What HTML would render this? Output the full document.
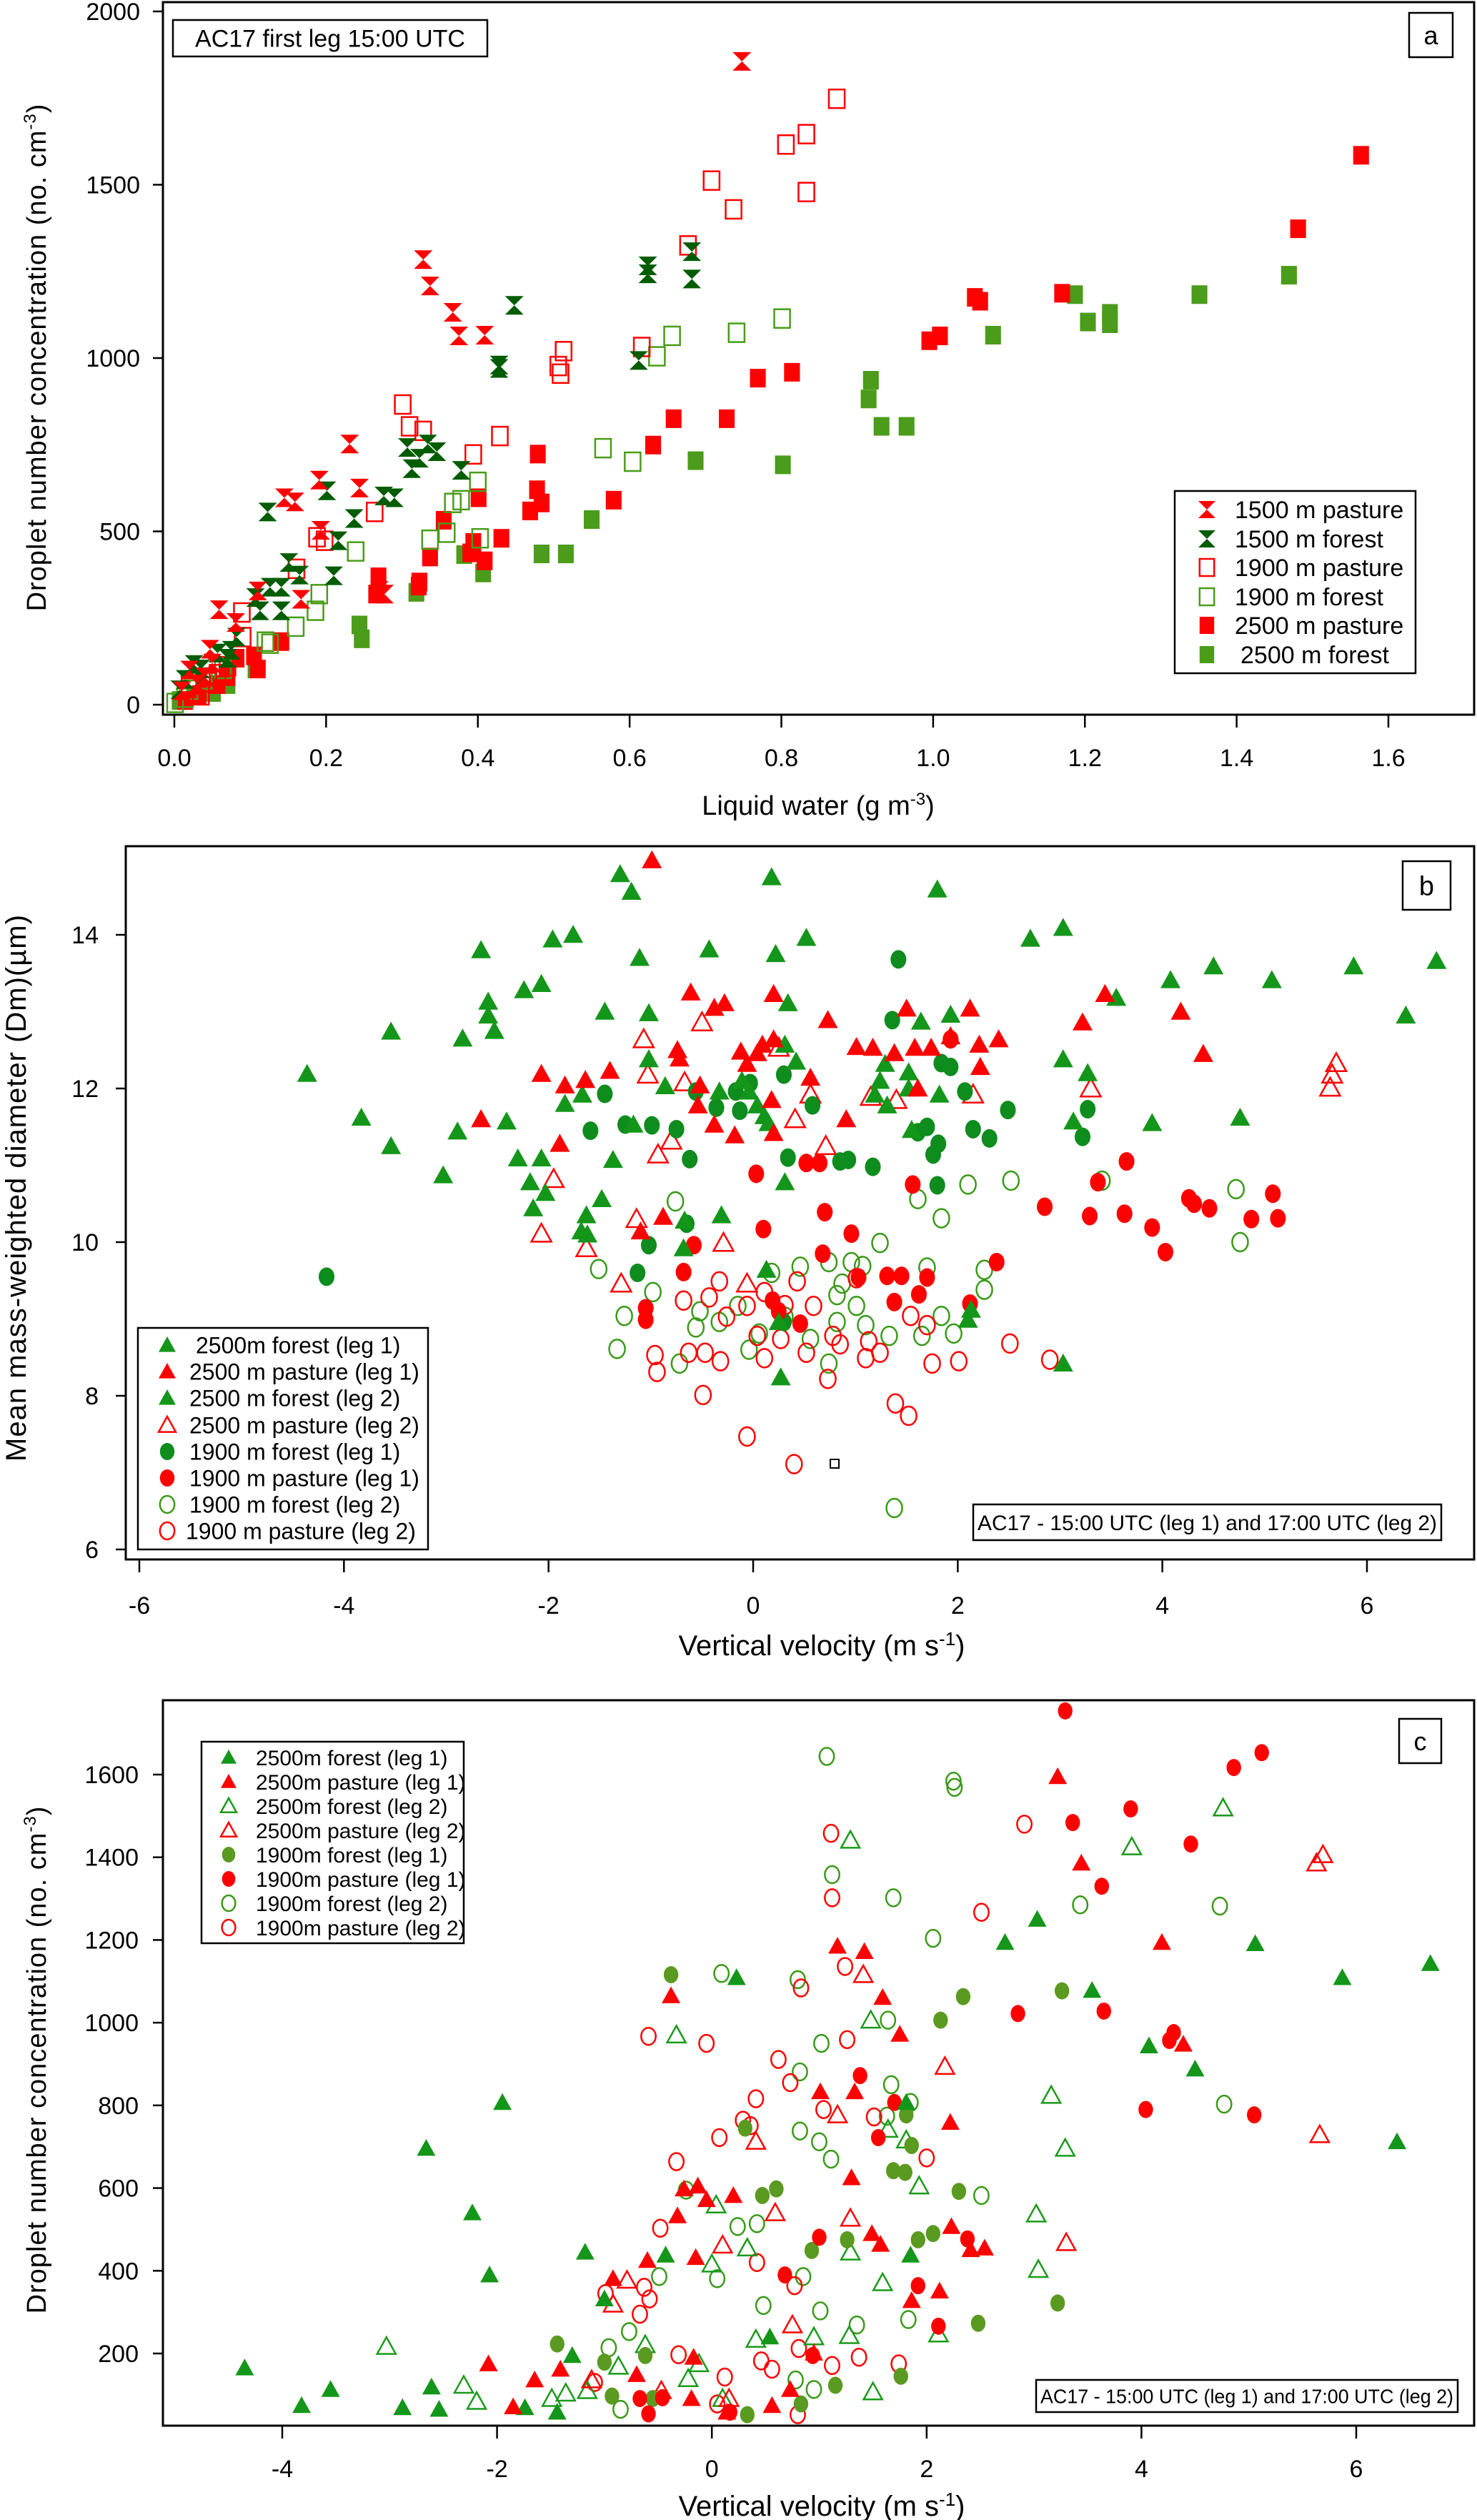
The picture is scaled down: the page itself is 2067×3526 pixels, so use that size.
<!DOCTYPE html>
<html><head><meta charset="utf-8">
<style>
html,body{margin:0;padding:0;background:#fff;}
svg{display:block;}
text{font-family:"Liberation Sans Narrow","Liberation Sans",Arial,sans-serif;fill:#000;}
</style></head>
<body>
<svg id="fig" width="2067" height="3526" viewBox="0 0 2067 3526" xmlns="http://www.w3.org/2000/svg">
<g id="pa"></g>
<g id="pb"></g>
<g id="pc"></g>
</svg>
<script>
// ---------- Panel A data: [liquid water, droplet conc] ----------
const aTicksX = [0.0,0.2,0.4,0.6,0.8,1.0,1.2,1.4,1.6];
const aTickLabelsX = ["0.0","0.2","0.4","0.6","0.8","1.0","1.2","1.4","1.6"];
const aTicksY = [0,500,1000,1500,2000];
const aP1500 = [[0.748,1856],[0.328,1284],[0.337,1208],[0.367,1132],[0.375,1064],[0.409,1066],[0.231,752],[0.191,648],[0.244,625],[0.145,597],[0.159,585],[0.193,503],[0.059,274],[0.081,237],[0.047,160],[0.110,328],[0.167,304],[0.277,319],[0.27,330],[0.02,100],[0.03,60],[0.05,120],[0.01,40],[0.04,80]];
const aF1500 = [[0.682,1307],[0.682,1228],[0.624,1266],[0.624,1243],[0.448,1152],[0.428,980],[0.428,970],[0.612,993],[0.307,742],[0.334,752],[0.346,730],[0.313,681],[0.323,711],[0.378,676],[0.201,617],[0.276,602],[0.290,597],[0.123,556],[0.237,537],[0.216,473],[0.151,410],[0.165,374],[0.210,372],[0.126,339],[0.141,339],[0.107,309],[0.141,271],[0.113,271],[0.082,195],[0.075,157],[0.057,149],[0.026,116],[0.035,103],[0.014,73],[0.007,43],[0.039,81],[0.07,134]];
const aP1900 = [[0.873,1748],[0.833,1646],[0.806,1616],[0.708,1512],[0.737,1429],[0.833,1479],[0.677,1325],[0.513,1020],[0.506,977],[0.509,955],[0.616,1032],[0.301,866],[0.310,803],[0.328,790],[0.394,722],[0.429,775],[0.264,556],[0.188,483],[0.198,473],[0.161,392],[0.089,266],[0.090,195],[0.07,111],[0.057,88],[0.02,58],[0.035,27],[0.045,65]];
const aF1900 = [[0.801,1114],[0.741,1073],[0.656,1064],[0.636,1005],[0.565,740],[0.604,701],[0.400,643],[0.367,582],[0.378,590],[0.359,496],[0.337,476],[0.403,480],[0.239,442],[0.191,319],[0.186,271],[0.160,225],[0.120,182],[0.126,176],[0.064,103],[0.039,73],[0.014,20],[0.001,5],[0.02,43]];
const aP2500 = [[1.564,1585],[1.481,1373],[1.170,1187],[1.055,1175],[1.062,1164],[0.995,1050],[1.009,1064],[0.814,959],[0.769,942],[0.728,825],[0.658,825],[0.631,749],[0.479,723],[0.478,620],[0.484,582],[0.469,559],[0.579,590],[0.401,597],[0.355,532],[0.431,480],[0.394,468],[0.390,438],[0.337,426],[0.409,415],[0.269,369],[0.266,319],[0.323,354],[0.322,342],[0.141,182],[0.105,141],[0.110,103],[0.082,134],[0.057,58],[0.032,27],[0.014,12],[0.07,81]];
const aF2500 = [[1.469,1239],[1.351,1183],[1.233,1129],[1.233,1099],[1.204,1104],[1.187,1183],[1.079,1066],[0.918,936],[0.915,882],[0.932,803],[0.965,803],[0.802,692],[0.687,704],[0.550,534],[0.484,435],[0.516,435],[0.382,433],[0.407,380],[0.319,324],[0.244,230],[0.247,190],[0.07,58],[0.051,35],[0.007,12],[0.026,27],[0.107,103]];

// ---------- Panel B data: [vertical velocity, Dm] ----------
const bTicksX = [-6,-4,-2,0,2,4,6];
const bTicksY = [6,8,10,12,14];
const bF2500L1 = [[-4.36,12.19],[-3.83,11.62],[-3.54,12.74],[-3.54,11.25],[-3.03,10.87],[-2.89,11.44],[-2.84,12.65],[-2.66,13.8],[-2.59,13.13],[-2.59,12.95],[-2.53,12.75],[-2.41,11.57],[-2.30,11.09],[-2.24,13.28],[-2.18,10.78],[-2.15,10.44],[-2.07,13.36],[-2.07,11.09],[-2.03,10.64],[-1.96,13.94],[-1.84,11.8],[-1.76,14.0],[-1.67,11.92],[-1.63,10.35],[-1.68,10.14],[-1.62,10.1],[-1.48,10.56],[-1.45,13.0],[-1.37,11.07],[-1.30,14.79],[-1.19,14.56],[-1.17,11.53],[-1.11,13.7],[-1.02,12.98],[-1.02,12.38],[-0.86,12.03],[-0.68,9.92],[-0.67,10.28],[-0.43,13.81],[-0.31,10.35],[-0.33,11.96],[-0.11,12.1],[-0.04,11.96],[0.04,11.78],[0.11,11.64],[0.15,11.55],[0.18,14.75],[0.22,13.75],[0.31,10.78],[0.34,13.11],[0.31,12.57],[0.42,12.35],[0.52,13.96],[0.13,9.64],[0.27,8.24]];
const bF2500L2 = [[0.25,8.96],[1.29,12.32],[1.24,12.1],[1.19,11.92],[1.31,11.78],[1.52,12.0],[1.55,11.46],[1.64,12.87],[1.80,14.59],[1.82,11.92],[1.93,12.96],[2.13,9.12],[2.10,8.99],[2.71,13.95],[3.03,14.09],[3.03,12.38],[3.13,11.57],[3.27,12.2],[3.03,8.42],[3.55,13.18],[3.9,11.55],[4.08,13.41],[4.5,13.59],[4.76,11.62],[5.07,13.41],[5.87,13.59],[6.38,12.95],[6.68,13.66],[1.52,12.21]];
const bP2500L1 = [[-0.99,14.97],[-2.07,12.19],[-1.84,12.04],[-1.64,12.11],[-1.40,12.23],[-2.66,11.6],[-1.89,11.28],[-0.88,10.33],[-1.10,10.14],[-0.74,12.5],[-0.72,12.39],[-0.61,13.25],[-0.38,13.05],[-0.28,13.11],[-0.54,11.78],[-0.38,11.53],[-0.18,11.39],[-0.12,12.48],[-0.06,12.32],[0.09,12.57],[0.20,13.23],[0.20,12.64],[0.18,11.85],[0.20,11.42],[0.56,12.14],[0.73,12.89],[0.91,11.6],[1.01,12.54],[1.17,12.53],[1.38,12.46],[1.50,13.04],[1.58,12.53],[1.61,12.0],[1.74,12.53],[1.93,12.68],[2.12,13.04],[2.21,12.57],[2.22,12.28],[2.40,12.64],[3.22,12.86],[3.44,13.23],[4.18,13.0],[4.4,12.45],[-0.52,12.04],[0.04,12.46]];
const bP2500L2 = [[-2.07,10.11],[-1.95,10.82],[-1.63,9.92],[-1.29,9.46],[-1.07,12.64],[-1.03,12.18],[-1.14,10.3],[-0.93,11.14],[-0.80,11.32],[-0.67,12.08],[-0.50,12.86],[-0.29,9.99],[-0.06,9.46],[0.25,12.53],[0.41,11.6],[0.56,11.92],[0.71,11.25],[1.15,11.89],[1.40,11.85],[2.15,11.92],[3.30,12.0],[5.64,12.01],[5.66,12.18],[5.70,12.33]];
const bF1900L1 = [[-4.17,9.55],[-1.59,11.45],[-1.45,11.93],[-1.13,9.6],[-1.02,9.96],[-1.25,11.53],[-0.99,11.52],[-0.75,11.47],[-0.62,11.08],[-0.65,10.24],[-0.56,11.96],[-0.36,11.75],[-0.17,11.96],[-0.13,11.71],[-0.03,12.07],[0.30,12.18],[0.34,11.1],[0.58,11.78],[0.85,11.05],[0.93,11.07],[1.17,10.98],[1.36,12.89],[1.42,13.68],[1.70,11.5],[1.61,11.43],[1.76,11.14],[1.81,11.28],[1.80,10.74],[1.84,12.33],[1.93,12.28],[2.07,11.96],[2.15,11.47],[2.31,11.35],[2.49,11.72],[3.27,11.73],[3.22,11.37],[0.30,8.96]];
const bP1900L1 = [[-1.05,9.14],[-1.05,8.99],[-0.68,9.61],[-0.58,9.96],[0.10,10.17],[0.03,10.89],[0.19,9.24],[0.46,8.94],[0.52,11.03],[0.65,11.03],[0.68,9.85],[0.70,10.39],[0.96,10.11],[1.03,9.54],[1.31,9.56],[1.38,9.22],[1.45,9.56],[1.56,10.75],[1.62,9.32],[1.70,9.54],[1.93,12.64],[2.12,9.2],[2.38,9.74],[2.85,10.46],[3.29,10.34],[3.37,10.78],[3.63,10.37],[3.65,11.05],[3.90,10.19],[4.03,9.87],[4.26,10.57],[4.31,10.5],[4.46,10.44],[4.87,10.3],[5.08,10.63],[5.13,10.31],[0.25,9.1]];
const bF1900L2 = [[-1.51,9.65],[-1.33,8.61],[-1.26,9.04],[-0.98,9.35],[-0.76,10.53],[-0.52,9.1],[-0.72,8.42],[-0.56,8.89],[-0.33,8.96],[-0.15,9.17],[-0.04,8.6],[0.06,8.81],[0.18,9.6],[0.31,9.03],[0.46,9.68],[0.56,8.74],[0.74,9.74],[0.74,8.42],[0.82,9.31],[0.82,8.96],[0.96,9.74],[1.01,9.17],[1.07,9.69],[1.10,8.92],[1.24,9.99],[1.33,8.78],[1.38,6.54],[1.61,10.56],[1.70,9.67],[1.65,8.78],[1.84,10.31],[1.84,9.04],[1.96,8.81],[2.10,10.75],[2.26,9.64],[2.26,9.38],[2.52,10.8],[3.41,10.8],[4.72,10.69],[4.76,10.0],[0.87,9.46]];
const bP1900L2 = [[-0.96,8.53],[-0.94,8.31],[-0.68,9.24],[-0.63,8.56],[-0.47,8.56],[-0.32,8.45],[-0.33,9.49],[-0.43,9.28],[-0.49,8.01],[-0.26,9.03],[-0.06,7.47],[-0.06,9.17],[0.04,8.78],[0.11,8.49],[0.11,9.35],[0.27,8.74],[0.31,9.18],[0.40,7.11],[0.43,9.49],[0.52,8.56],[0.59,9.17],[0.73,8.22],[0.78,8.78],[0.85,8.67],[1.01,9.53],[1.10,8.49],[1.13,8.71],[1.24,8.56],[1.39,7.9],[1.52,7.74],[1.54,9.04],[1.75,8.42],[2.01,8.45],[2.51,8.68],[2.90,8.47],[1.70,8.92]];

// ---------- Panel C data: [vertical velocity, droplet conc] ----------
const cTicksX = [-4,-2,0,2,4,6];
const cTicksY = [200,400,600,800,1000,1200,1400,1600];
const cF2500L1 = [[-4.35,165],[-3.82,74],[-3.55,113],[-2.88,69],[-2.66,696],[-2.54,65],[-2.61,119],[-2.23,540],[-2.07,390],[-1.95,807],[-1.74,69],[-1.44,58],[-1.30,195],[-1.18,445],[-1.00,332],[-0.43,438],[0.23,1109],[0.54,240],[1.81,807],[1.85,438],[2.73,1194],[3.03,1250],[3.54,1078],[4.07,944],[4.50,888],[5.06,1191],[5.87,1109],[6.38,712],[6.69,1143]];
const cP2500L1 = [[-2.08,175],[-1.85,71],[-1.65,136],[-1.41,162],[-0.92,381],[-0.70,149],[-0.60,425],[-0.38,1065],[-0.32,533],[-0.26,598],[-0.13,605],[-0.15,432],[-0.05,572],[-0.17,191],[-0.19,91],[0.20,582],[0.14,58],[0.56,74],[0.73,113],[0.95,201],[1.01,833],[1.17,1185],[1.30,625],[1.33,833],[1.42,1172],[1.59,1061],[1.75,972],[1.49,490],[1.57,464],[1.86,328],[2.12,351],[2.22,759],[2.23,507],[2.41,451],[3.22,1595],[3.44,1386],[4.19,1194],[4.39,948],[2.54,455]];
const cF2500L2 = [[-3.03,217],[-2.31,123],[-2.19,84],[-1.49,91],[-1.36,104],[-1.16,110],[-0.87,169],[-0.62,221],[-0.33,970],[-0.22,139],[-0.12,175],[0.00,416],[0.04,559],[0.10,91],[0.33,455],[0.41,234],[1.29,445],[1.28,243],[1.50,107],[1.29,1441],[1.48,1006],[1.59,371],[1.64,742],[1.81,716],[1.93,605],[2.11,247],[3.02,537],[3.04,403],[3.16,824],[3.29,696],[3.91,1425],[4.76,1519],[0.95,240]];
const cP2500L2 = [[-1.12,136],[-0.92,319],[-0.79,377],[-0.47,110],[0.10,462],[0.16,91],[0.41,713],[0.59,540],[0.75,269],[1.17,777],[1.29,527],[1.41,1116],[2.17,894],[3.30,468],[5.63,1386],[5.69,1406],[5.66,729]];
const cF1900L1 = [[-1.44,223],[-1.00,179],[-0.93,97],[-0.62,195],[-0.55,91],[-0.38,1116],[0.31,745],[0.33,52],[0.47,582],[0.60,598],[0.83,78],[0.93,449],[1.15,123],[1.26,475],[1.69,642],[1.80,638],[1.81,777],[1.86,703],[1.76,145],[1.92,475],[2.06,490],[2.13,1006],[2.30,592],[2.34,1063],[2.48,273],[3.22,322],[3.26,1077]];
const cP1900L1 = [[-0.59,54],[-0.46,93],[-0.67,91],[0.17,58],[0.68,390],[0.94,195],[1.00,481],[1.38,872],[1.55,722],[1.70,807],[1.92,364],[2.11,266],[2.38,477],[2.85,1022],[3.29,1754],[3.36,1484],[3.63,1330],[3.65,1028],[3.90,1517],[4.04,790],[4.26,957],[4.30,976],[4.46,1432],[4.86,1617],[5.05,777],[5.12,1653]];
const cF1900L2 = [[-0.96,214],[-0.85,65],[-0.77,253],[-0.49,386],[-0.24,595],[0.05,381],[0.09,1119],[0.24,507],[0.42,514],[0.48,316],[0.78,136],[0.80,1104],[0.82,738],[0.82,881],[0.85,386],[0.95,113],[1.00,712],[1.01,303],[1.02,950],[1.07,1644],[1.11,670],[1.12,1358],[1.35,269],[1.64,1006],[1.67,850],[1.69,1302],[1.63,774],[1.83,282],[1.85,807],[2.06,1204],[2.25,1584],[2.26,1569],[2.51,582],[3.43,1285],[4.73,1282],[4.77,803]];
const cP1900L2 = [[-1.09,130],[-0.99,345],[-0.67,295],[-0.63,360],[-0.58,332],[-0.59,967],[-0.48,503],[-0.33,664],[-0.31,197],[-0.05,950],[0.07,722],[0.05,78],[0.12,143],[0.29,764],[0.36,751],[0.41,816],[0.42,420],[0.46,182],[0.56,162],[0.62,911],[0.73,855],[0.77,364],[0.80,52],[0.81,212],[0.83,1084],[1.04,790],[1.12,171],[1.12,1302],[1.11,1458],[1.24,1136],[1.26,959],[1.37,191],[1.51,772],[1.74,175],[2.00,673],[2.51,1267],[2.91,1480]];

const NS = "http://www.w3.org/2000/svg";
function mk(parent, tag, attrs, txt) {
  const el = document.createElementNS(NS, tag);
  for (const k in attrs) el.setAttribute(k, attrs[k]);
  if (txt !== undefined) el.textContent = txt;
  parent.appendChild(el);
  return el;
}
function lin(d0, d1, p0, p1) { return v => p0 + (v - d0) * (p1 - p0) / (d1 - d0); }

function marker(g, type, cx, cy, s, color) {
  let el;
  const h = s / 2;
  if (type === 'sq' || type === 'sqo') {
    el = mk(g, 'rect', {x: cx - h * 0.85, y: cy - h, width: s * 0.85, height: s,
      fill: type === 'sq' ? color : 'none', stroke: color, 'stroke-width': type === 'sq' ? 0 : 2.5});
  } else if (type === 'hg') {
    el = mk(g, 'path', {d: `M${cx-h},${cy-h}L${cx+h},${cy-h}L${cx},${cy}L${cx+h},${cy+h}L${cx-h},${cy+h}L${cx},${cy}Z`, fill: color});
  } else if (type === 'tri' || type === 'trio') {
    el = mk(g, 'path', {d: `M${cx},${cy-h}L${cx+h},${cy+h*0.8}L${cx-h},${cy+h*0.8}Z`,
      fill: type === 'tri' ? color : 'none', stroke: color, 'stroke-width': type === 'tri' ? 0 : 2.5});
  } else {
    el = mk(g, 'ellipse', {cx: cx, cy: cy, rx: h * 0.85, ry: h,
      fill: type === 'cir' ? color : 'none', stroke: color, 'stroke-width': type === 'cir' ? 0 : 2.5});
  }
  return el;
}

function axes(g, box, xs, ys, xt, xtl, yt, yxRight, xLabY) {
  const frame = mk(g, 'rect', {x: box.l, y: box.t, width: box.r - box.l, height: box.b - box.t, fill: 'none', stroke: '#000', 'stroke-width': 3});
  
  
  xt.forEach((v, i) => {
    const x = xs(v);
    const tk = mk(g, 'line', {x1: x, x2: x, y1: box.b, y2: box.b + 18, stroke: '#000', 'stroke-width': 2.5});
    
    
    const lb = mk(g, 'text', {x: x, y: xLabY, 'text-anchor': 'middle', 'font-size': 34}, xtl ? xtl[i] : String(v));
    
    
  });
  yt.forEach(v => {
    const y = ys(v);
    const tk = mk(g, 'line', {x1: box.l - 14, x2: box.l, y1: y, y2: y, stroke: '#000', 'stroke-width': 2.5});
    
    
    const lb = mk(g, 'text', {x: yxRight, y: y + 12, 'text-anchor': 'end', 'font-size': 34}, String(v));
    
    
  });
}

function series(g, data, xs, ys, type, size, color, name) {
  const sg = mk(g, 'g', {});
  
  
  data.forEach(p => {
    const m = marker(sg, type, xs(p[0]), ys(p[1]), size, color);
    
    
  });
}

function boxLabel(g, x, y, w, h, txt, fs, name, fit) {
  const bg = mk(g, 'g', {});
  
  
  mk(bg, 'rect', {x: x, y: y, width: w, height: h, fill: '#fff', stroke: '#000', 'stroke-width': 2.5});
  const at = {x: x + w / 2, y: y + h / 2 + fs * 0.36, 'text-anchor': 'middle', 'font-size': fs};
  if (fit) { at.textLength = w - 12; at.lengthAdjust = 'spacingAndGlyphs'; }
  mk(bg, 'text', at, txt);
}

function legend(g, x, y, w, h, entries, mx, tx, fs, size, name) {
  const lg = mk(g, 'g', {});
  
  
  mk(lg, 'rect', {x: x, y: y, width: w, height: h, fill: '#fff', stroke: '#000', 'stroke-width': 2.5});
  entries.forEach(e => {
    const eg = mk(lg, 'g', {});
    
    
    marker(eg, e[1], mx, e[0], size, e[2]);
    mk(eg, 'text', {x: e[4] || tx, y: e[0] + fs * 0.36, 'font-size': fs}, e[3]);
  });
}

const RED = '#ff0000', DKG = '#005c00', LGR = '#4a9c1a', GB = '#14961a', GC = '#0e8c1e', OLV = '#5a9a20';

// ================= Panel A =================
(function () {
  const g = document.getElementById('pa');
  const box = {l: 228, t: 3, r: 2063, b: 1000};
  const xs = lin(0, 1.6, 244, 1943), ys = lin(0, 2000, 986, 16);
  axes(g, box, xs, ys, aTicksX, aTickLabelsX, aTicksY, 196, 1072);
  series(g, aF2500, xs, ys, 'sq', 26, LGR, 'series-2500m-forest');
  series(g, aP2500, xs, ys, 'sq', 26, RED, 'series-2500m-pasture');
  series(g, aF1900, xs, ys, 'sqo', 26, LGR, 'series-1900m-forest');
  series(g, aP1900, xs, ys, 'sqo', 26, RED, 'series-1900m-pasture');
  series(g, aF1500, xs, ys, 'hg', 26, DKG, 'series-1500m-forest');
  series(g, aP1500, xs, ys, 'hg', 26, RED, 'series-1500m-pasture');
  const xt = mk(g, 'text', {x: 1145, y: 1140, 'text-anchor': 'middle', 'font-size': 38});
  
  
  xt.innerHTML = 'Liquid water (g m<tspan font-size="24" dy="-14">-3</tspan><tspan dy="14">)</tspan>';
  const yt = mk(g, 'text', {x: 0, y: 0, 'text-anchor': 'middle', 'font-size': 38, transform: 'translate(64,500) rotate(-90)', style: 'font-family:"Liberation Sans",sans-serif;letter-spacing:1px'});
  
  
  yt.innerHTML = 'Droplet number concentration (no.   cm<tspan font-size="24" dy="-14">-3</tspan><tspan dy="14">)</tspan>';
  boxLabel(g, 242, 28, 440, 51, 'AC17 first leg 15:00 UTC', 34, 'panel-a-title');
  boxLabel(g, 1972, 18, 61, 62, 'a', 36, 'panel-a-label');
  legend(g, 1644, 687, 337, 255, [
    [713, 'hg', RED, '1500 m pasture'], [754, 'hg', DKG, '1500 m forest'],
    [794, 'sqo', RED, '1900 m pasture'], [835, 'sqo', LGR, '1900 m forest'],
    [875, 'sq', RED, '2500 m pasture'], [916, 'sq', LGR, '2500 m forest', 1736]
  ], 1689, 1728, 34, 24, 'legend-a');
})();

// ================= Panel B =================
(function () {
  const g = document.getElementById('pb');
  const box = {l: 176, t: 1184, r: 2063, b: 2182};
  const xs = lin(-6, 6, 195, 1913), ys = lin(6, 14, 2168, 1308);
  axes(g, box, xs, ys, bTicksX, null, bTicksY, 138, 2258);
  series(g, bF1900L2, xs, ys, 'ciro', 26, '#3a9a1a', 'series-1900m-forest-leg2');
  series(g, bP1900L2, xs, ys, 'ciro', 26, RED, 'series-1900m-pasture-leg2');
  series(g, bP2500L2, xs, ys, 'trio', 28, RED, 'series-2500m-pasture-leg2');
  series(g, bF1900L1, xs, ys, 'cir', 26, GC, 'series-1900m-forest-leg1');
  series(g, bP1900L1, xs, ys, 'cir', 26, RED, 'series-1900m-pasture-leg1');
  series(g, bF2500L1, xs, ys, 'tri', 28, GB, 'series-2500m-forest-leg1');
  series(g, bF2500L2, xs, ys, 'tri', 28, GB, 'series-2500m-forest-leg2');
  series(g, bP2500L1, xs, ys, 'tri', 28, RED, 'series-2500m-pasture-leg1');
  const sm = mk(g, 'rect', {x: 1162, y: 2042, width: 12, height: 12, fill: 'none', stroke: '#000', 'stroke-width': 2});
  
  
  const xt = mk(g, 'text', {x: 1150, y: 2316, 'text-anchor': 'middle', 'font-size': 40});
  
  
  xt.innerHTML = 'Vertical velocity (m s<tspan font-size="26" dy="-14">-1</tspan><tspan dy="14">)</tspan>';
  const yt = mk(g, 'text', {x: 0, y: 0, 'text-anchor': 'middle', 'font-size': 40, transform: 'translate(36,1662) rotate(-90)', style: 'font-family:"Liberation Sans",sans-serif;letter-spacing:1px'}, 'Mean mass-weighted diameter (Dm)(\u00b5m)');
  
  
  boxLabel(g, 1963, 1205, 67, 68, 'b', 38, 'panel-b-label');
  boxLabel(g, 1362, 2105, 655, 50, 'AC17 - 15:00 UTC (leg 1) and 17:00 UTC (leg 2)', 30, 'panel-b-note', true);
  legend(g, 193, 1858, 406, 310, [
    [1882, 'tri', GB, '2500m   forest (leg 1)', 274], [1919, 'tri', RED, '2500 m pasture (leg 1)'],
    [1956, 'tri', GB, '2500 m forest (leg 2)'], [1994, 'trio', RED, '2500 m pasture (leg 2)'],
    [2031, 'cir', GC, '1900 m forest (leg 1)'], [2068, 'cir', RED, '1900 m pasture (leg 1)'],
    [2105, 'ciro', '#3a9a1a', '1900 m forest (leg 2)'], [2142, 'ciro', RED, '1900 m pasture (leg 2)', 260]
  ], 234, 265, 32, 24, 'legend-b');
})();

// ================= Panel C =================
(function () {
  const g = document.getElementById('pc');
  const box = {l: 228, t: 2379, r: 2063, b: 3394};
  const xs = lin(-4, 6, 395, 1898), ys = lin(200, 1600, 3293, 2483);
  axes(g, box, xs, ys, cTicksX, null, cTicksY, 194, 3466);
  series(g, cF1900L2, xs, ys, 'ciro', 24, '#3a9a1a', 'series-1900m-forest-leg2');
  series(g, cP1900L2, xs, ys, 'ciro', 24, RED, 'series-1900m-pasture-leg2');
  series(g, cF2500L2, xs, ys, 'trio', 26, '#1a9a1a', 'series-2500m-forest-leg2');
  series(g, cP2500L2, xs, ys, 'trio', 26, RED, 'series-2500m-pasture-leg2');
  series(g, cF1900L1, xs, ys, 'cir', 24, OLV, 'series-1900m-forest-leg1');
  series(g, cP1900L1, xs, ys, 'cir', 24, RED, 'series-1900m-pasture-leg1');
  series(g, cF2500L1, xs, ys, 'tri', 26, GB, 'series-2500m-forest-leg1');
  series(g, cP2500L1, xs, ys, 'tri', 26, RED, 'series-2500m-pasture-leg1');
  const xt = mk(g, 'text', {x: 1150, y: 3520, 'text-anchor': 'middle', 'font-size': 40});
  
  
  xt.innerHTML = 'Vertical velocity (m s<tspan font-size="26" dy="-14">-1</tspan><tspan dy="14">)</tspan>';
  const yt = mk(g, 'text', {x: 0, y: 0, 'text-anchor': 'middle', 'font-size': 38, transform: 'translate(64,2882) rotate(-90)', style: 'font-family:"Liberation Sans",sans-serif;letter-spacing:1px'});
  
  
  yt.innerHTML = 'Droplet number concentration (no.   cm<tspan font-size="24" dy="-14">-3</tspan><tspan dy="14">)</tspan>';
  boxLabel(g, 1958, 2405, 59, 62, 'c', 36, 'panel-c-label');
  boxLabel(g, 1450, 3330, 590, 45, 'AC17 - 15:00 UTC (leg 1) and 17:00 UTC (leg 2)', 28, 'panel-c-note', true);
  legend(g, 282, 2437, 367, 282, [
    [2459, 'tri', GB, '2500m forest (leg 1)'], [2493, 'tri', RED, '2500m pasture (leg 1)'],
    [2527, 'trio', '#1a9a1a', '2500m forest (leg 2)'], [2561, 'trio', RED, '2500m pasture (leg 2)'],
    [2595, 'cir', OLV, '1900m forest (leg 1)'], [2629, 'cir', RED, '1900m pasture (leg 1)'],
    [2663, 'ciro', '#3a9a1a', '1900m forest (leg 2)'], [2697, 'ciro', RED, '1900m pasture (leg 2)']
  ], 320, 358, 30, 22, 'legend-c');
})();
</script>
</body></html>
